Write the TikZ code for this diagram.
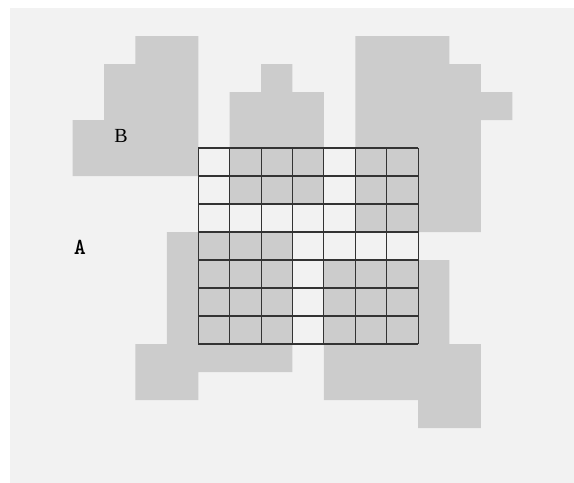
\documentclass[tikz,border=0pt]{standalone}
\usepackage{fontspec}
\newfontfamily\serifB{Liberation Serif}
\definecolor{bg}{HTML}{F2F2F2}
\definecolor{blk}{HTML}{CCCCCC}
\definecolor{gridln}{HTML}{333333}
\begin{document}
\begin{tikzpicture}[x=31.4pt,y=-28pt,
  region/.style={fill=blk,draw=none},
  gridline/.style={draw=gridln,line width=1.1pt},
  lab/.style={inner sep=0pt}]
\useasboundingbox (-6.315,-5.286) rectangle (11.965,11.929);
\fill[bg] (-6,-5) rectangle (12.3,12.3);
% region B (top left)
\fill[region] (-2,-4) -- (0,-4) -- (0,1) -- (-4,1) -- (-4,-1) -- (-3,-1) -- (-3,-3) -- (-2,-3) -- cycle;
% top middle
\fill[region] (1,-2) -- (2,-2) -- (2,-3) -- (3,-3) -- (3,-2) -- (4,-2) -- (4,0) -- (1,0) -- cycle;
% top right
\fill[region] (5,-4) -- (8,-4) -- (8,-3) -- (9,-3) -- (9,-2) -- (10,-2) -- (10,-1) -- (9,-1) -- (9,3) -- (7,3) -- (7,0) -- (5,0) -- cycle;
% bottom left
\fill[region] (-1,3) -- (0,3) -- (0,7) -- (3,7) -- (3,8) -- (0,8) -- (0,9) -- (-2,9) -- (-2,7) -- (-1,7) -- cycle;
% bottom right
\fill[region] (4,7) -- (7,7) -- (7,4) -- (8,4) -- (8,7) -- (9,7) -- (9,10) -- (7,10) -- (7,9) -- (4,9) -- cycle;
% grid cells
\foreach \r/\cols in {0/{1,2,3,5,6},1/{1,2,3,5,6},2/{5,6},3/{0,1,2},4/{0,1,2,4,5,6},5/{0,1,2,4,5,6},6/{0,1,2,4,5,6}}{
  \foreach \c in \cols {\fill[region] (\c,\r) rectangle ++(1,1);}
}
\foreach \k in {0,...,7}{
  \draw[gridline] (\k,0) -- (\k,7);
  \draw[gridline] (0,\k) -- (7,\k);
}
\node[lab] (B) at (-2.46,-0.43) {\serifB\fontsize{20}{20}\selectfont B};
\node[lab] (A) at (-3.77,3.54) {\ttfamily\bfseries\fontsize{23}{23}\selectfont A};
\end{tikzpicture}
\end{document}
